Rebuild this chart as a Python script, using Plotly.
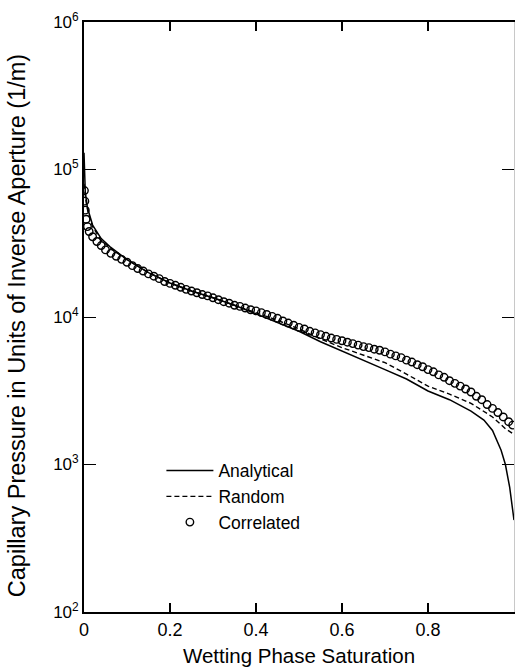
import plotly.graph_objects as go

# ---- data ----
s_analytical = [0.0, 0.001, 0.003, 0.008, 0.02, 0.04, 0.06, 0.1, 0.15, 0.2, 0.25, 0.3, 0.35,
                0.4, 0.45, 0.5, 0.55, 0.6, 0.65, 0.7, 0.75, 0.8, 0.85, 0.9, 0.93, 0.95,
                0.97, 0.98, 0.99, 0.995, 1.0]
p_analytical = [130000, 90000, 70000, 55000, 42000, 34000, 30000, 24500, 20000, 17000, 15000,
                13500, 12000, 10500, 9200, 8000, 6800, 5900, 5100, 4400, 3800, 3150, 2750,
                2300, 2000, 1700, 1250, 1000, 700, 550, 420]

s_random = [0.0, 0.005, 0.01, 0.02, 0.04, 0.07, 0.1, 0.15, 0.2, 0.25, 0.3, 0.35, 0.4, 0.45,
            0.5, 0.55, 0.6, 0.65, 0.7, 0.75, 0.8, 0.85, 0.9, 0.95, 0.98, 1.0]
p_random = [80000, 60000, 50000, 41000, 33000, 28000, 24500, 20000, 17000, 15000, 13500,
            12000, 10700, 9500, 8300, 7100, 6200, 5500, 4900, 4100, 3400, 3000, 2600, 2100,
            1750, 1600]

s_correlated = [0.001, 0.002, 0.003, 0.005, 0.008, 0.012, 0.02, 0.03, 0.04, 0.05, 0.0625,
                0.075, 0.0875, 0.1, 0.1125, 0.125, 0.1375, 0.15, 0.1625, 0.175, 0.1875, 0.2,
                0.2125, 0.225, 0.2375, 0.25, 0.2625, 0.275, 0.2875, 0.3, 0.3125, 0.325,
                0.3375, 0.35, 0.3625, 0.375, 0.3875, 0.4, 0.4125, 0.425, 0.4375, 0.45,
                0.4625, 0.475, 0.4875, 0.5, 0.5125, 0.525, 0.5375, 0.55, 0.5625, 0.575,
                0.5875, 0.6, 0.6125, 0.625, 0.6375, 0.65, 0.6625, 0.675, 0.6875, 0.7,
                0.7125, 0.725, 0.7375, 0.75, 0.7625, 0.775, 0.7875, 0.8, 0.8125, 0.825,
                0.8375, 0.85, 0.8625, 0.875, 0.8875, 0.9, 0.9125, 0.925, 0.9375, 0.95,
                0.9625, 0.975, 0.9875, 0.997]
p_correlated = [72000, 61000, 53000, 46000, 41000, 38000, 35000, 32500, 30500, 28500, 27000,
                25800, 24600, 23500, 22300, 21300, 20500, 19600, 18900, 18200, 17400, 16900,
                16400, 15900, 15400, 15000, 14600, 14200, 13900, 13500, 13100, 12700,
                12400, 12000, 11800, 11500, 11200, 11000, 10700, 10400, 10100, 9800,
                9400, 9100, 8800, 8500, 8300, 8000, 7800, 7600, 7400, 7200,
                7050, 6900, 6750, 6600, 6450, 6300, 6200, 6050, 5950, 5800,
                5600, 5450, 5300, 5100, 4950, 4750, 4600, 4400, 4250, 4050,
                3900, 3700, 3550, 3400, 3250, 3100, 2900, 2750, 2550, 2400,
                2250, 2100, 1950, 1850]

x_tickvals = [0, 0.2, 0.4, 0.6, 0.8]
x_ticktext = ["0", "0.2", "0.4", "0.6", "0.8"]
y_tickvals = [1e2, 1e3, 1e4, 1e5, 1e6]
y_ticktext = ["10<sup>2</sup>", "10<sup>3</sup>", "10<sup>4</sup>", "10<sup>5</sup>", "10<sup>6</sup>"]

x_title = "Wetting Phase Saturation"
y_title = "Capillary Pressure in Units of Inverse Aperture (1/m)"

FONT = "Liberation Sans, Arial, Helvetica, sans-serif"

fig = go.Figure()
fig.add_trace(go.Scatter(x=s_analytical, y=p_analytical, mode="lines", name="Analytical",
                         line=dict(color="black", width=1.5)))
fig.add_trace(go.Scatter(x=s_random, y=p_random, mode="lines", name="Random",
                         line=dict(color="black", width=1.4, dash="5px,3px")))
fig.add_trace(go.Scatter(x=s_correlated, y=p_correlated, mode="markers", name="Correlated",
                         marker=dict(symbol="circle-open", size=7.5, color="black",
                                     line=dict(width=1.4, color="black"))))
# right-side axis carrier
fig.add_trace(go.Scatter(x=[None], y=[None], yaxis="y2", showlegend=False, hoverinfo="skip"))

fig.update_layout(
    width=516, height=671,
    margin=dict(l=84, r=2, t=22, b=59),
    paper_bgcolor="white", plot_bgcolor="white",
    font=dict(family=FONT, color="black", size=17),
    showlegend=True,
    legend=dict(x=0.18, y=0.27, xanchor="left", yanchor="top",
                bgcolor="rgba(0,0,0,0)", font=dict(size=17.5, family=FONT),
                itemwidth=47, tracegroupgap=0),
    xaxis=dict(range=[0, 1], tickvals=x_tickvals, ticktext=x_ticktext,
               showgrid=False, zeroline=False, showline=True, linecolor="black",
               linewidth=1.8, mirror="ticks", ticks="inside", ticklen=9, tickwidth=1.5,
               tickcolor="black", tickfont=dict(size=18),
               title=dict(text=x_title, font=dict(size=20.5), standoff=10)),
    yaxis=dict(type="log", range=[2, 6], tickvals=y_tickvals, ticktext=y_ticktext,
               showgrid=False, zeroline=False, showline=True, linecolor="black",
               linewidth=1.8, ticks="inside", ticklen=12, tickwidth=1.2,
               tickcolor="black", tickfont=dict(size=17)),
    yaxis2=dict(type="log", range=[2, 6], overlaying="y", side="right",
                tickvals=y_tickvals, showticklabels=False, showgrid=False, zeroline=False,
                showline=True, linecolor="#c8c8c8", linewidth=1, ticks="inside",
                ticklen=12, tickwidth=1.2, tickcolor="black"),
    annotations=[dict(text=y_title, xref="paper", yref="paper", x=-0.156, y=0.486,
                      xanchor="center", yanchor="middle", textangle=-90, showarrow=False,
                      font=dict(size=23.5, family=FONT))],
)

fig.write_html("out.html", config={"displayModeBar": False},
               post_script="document.body.style.margin='0';document.body.style.overflow='hidden';")
